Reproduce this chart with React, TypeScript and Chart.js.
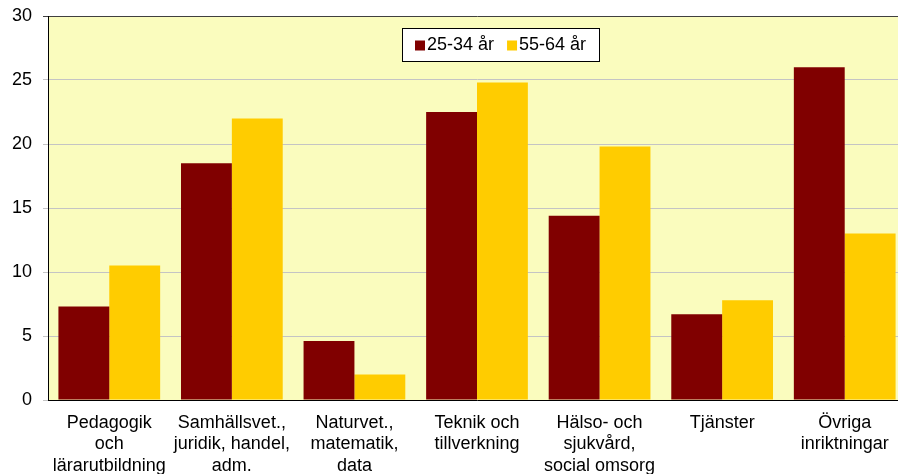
import React, { useEffect, useRef } from "react";
import { Chart, registerables } from "chart.js";

Chart.register(...registerables);

const categories: string[][] = [
  ["Pedagogik", "och", "lärarutbildning"],
  ["Samhällsvet.,", "juridik, handel,", "adm."],
  ["Naturvet.,", "matematik,", "data"],
  ["Teknik och", "tillverkning"],
  ["Hälso- och", "sjukvård,", "social omsorg"],
  ["Tjänster"],
  ["Övriga", "inriktningar"],
];
const series1Label = "25-34 år";
const series1 = [7.3, 18.5, 4.6, 22.5, 14.4, 6.7, 26.0];
const series2Label = "55-64 år";
const series2 = [10.5, 22.0, 2.0, 24.8, 19.8, 7.8, 13.0];
const yMin = 0;
const yMax = 30;
const yStep = 5;

const FONT = "'Liberation Sans', Arial, sans-serif";

const plotBg = {
  id: "plotBg",
  beforeDraw(chart: any) {
    const { ctx, chartArea } = chart;
    ctx.save();
    ctx.fillStyle = "#FAFCBE";
    ctx.fillRect(chartArea.left, chartArea.top, chartArea.right - chartArea.left, chartArea.bottom - chartArea.top);
    ctx.restore();
  },
};

const boxLegend = {
  id: "boxLegend",
  afterDraw(chart: any, _args: any, opts: any) {
    const { ctx } = chart;
    const x = opts.x, y = opts.y, w = opts.w, h = opts.h;
    ctx.save();
    ctx.fillStyle = "#ffffff";
    ctx.fillRect(x, y, w, h);
    ctx.strokeStyle = "#000000";
    ctx.lineWidth = 1;
    ctx.strokeRect(x + 0.5, y + 0.5, w, h);
    ctx.font = `18px ${FONT}`;
    ctx.textBaseline = "middle";
    ctx.textAlign = "left";
    let cx = x + 13;
    const cy = y + h / 2 + 1;
    chart.data.datasets.forEach((ds: any) => {
      ctx.fillStyle = ds.backgroundColor;
      ctx.fillRect(cx, cy - 5, 10, 10);
      cx += 12;
      ctx.fillStyle = "#000000";
      ctx.fillText(ds.label, cx, cy);
      cx += ctx.measureText(ds.label).width + 13;
    });
    ctx.restore();
  },
};

export default function App() {
  const ref = useRef<HTMLCanvasElement | null>(null);
  useEffect(() => {
    document.body.style.margin = "0";
    const canvas = ref.current!;
    Chart.defaults.font.family = FONT;
    const chart = new Chart(canvas, {
      type: "bar",
      data: {
        labels: categories,
        datasets: [
          { label: series1Label, data: series1, backgroundColor: "#800000", borderWidth: 0 },
          { label: series2Label, data: series2, backgroundColor: "#FFCC00", borderWidth: 0 },
        ],
      },
      options: {
        responsive: false,
        animation: false,
        layout: { padding: { top: 16, right: 0, left: 0, bottom: 0 } },
        datasets: { bar: { barPercentage: 1, categoryPercentage: 0.83 } },
        plugins: {
          legend: { display: false },
          tooltip: { enabled: false },
          boxLegend: { x: 402, y: 28, w: 197, h: 33 },
        } as any,
        scales: {
          x: {
            grid: { display: false, drawTicks: false },
            border: { display: true, color: "#000000", width: 1 },
            ticks: { color: "#000000", font: { size: 18, family: FONT }, padding: 12, maxRotation: 0, autoSkip: false },
            afterFit(scale: any) {
              scale.height = 74;
              scale.paddingLeft = 0;
              scale.paddingRight = 0;
            },
          },
          y: {
            min: yMin,
            max: yMax,
            ticks: { stepSize: yStep, color: "#000000", font: { size: 18, family: FONT }, padding: 11 },
            grid: {
              color: (c: any) => (c.tick && c.tick.value === yMax ? "#404040" : "#C4C4C4"),
              tickLength: 5,
              lineWidth: 1,
            },
            border: { display: true, color: "#000000", width: 1 },
            afterFit(scale: any) {
              scale.width = 48;
              scale.paddingTop = 0;
              scale.paddingBottom = 0;
            },
          },
        },
      },
      plugins: [plotBg, boxLegend],
    });
    return () => chart.destroy();
  }, []);
  return (
    <div style={{ width: 898, height: 474, overflow: "hidden", position: "relative" }}>
      <canvas ref={ref} width={906} height={474} style={{ display: "block" }} />
    </div>
  );
}
